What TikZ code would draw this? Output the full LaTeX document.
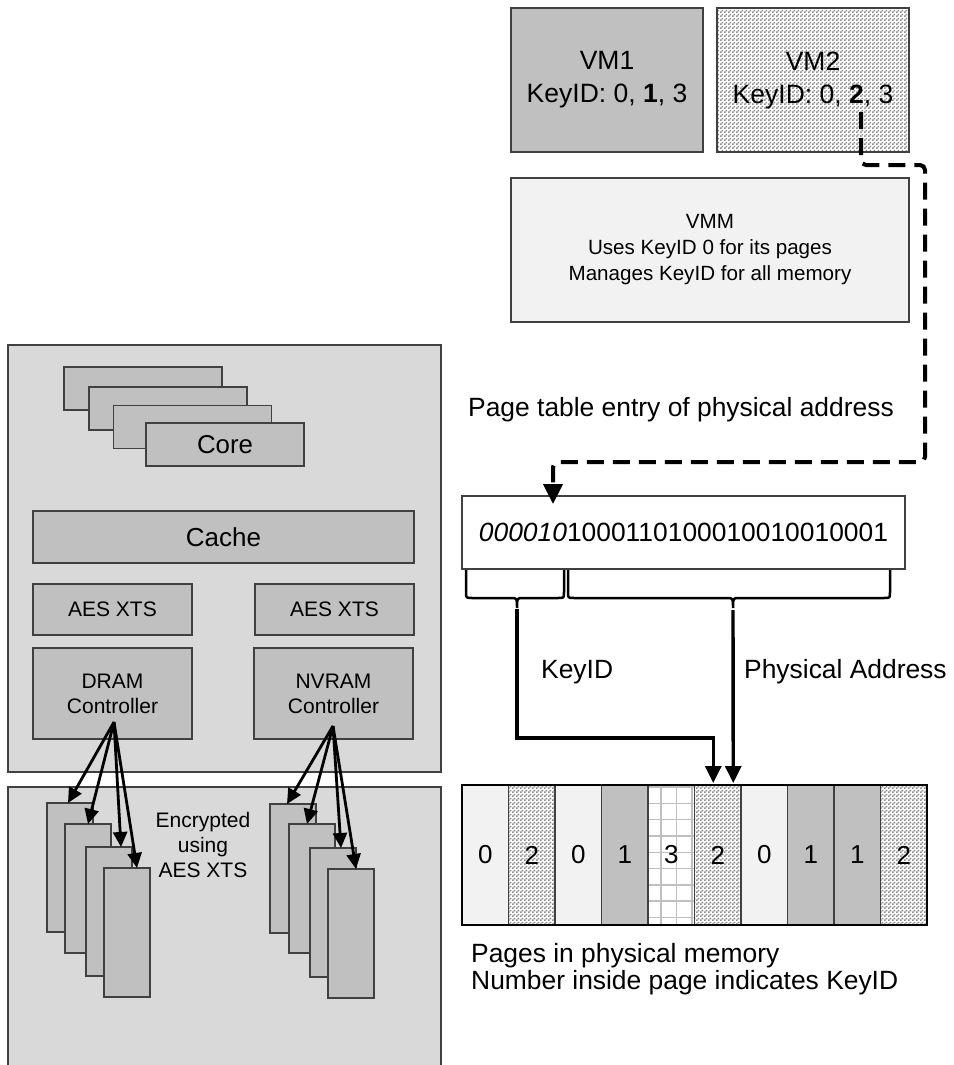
\documentclass[tikz,border=0pt]{standalone}
\usepackage{fontspec}
\setmainfont{Liberation Sans}
\usetikzlibrary{arrows.meta,patterns,calc}

% fine two-tone checker used for KeyID 2 pages
\pgfdeclarepatternformonly{finechecker}{\pgfpointorigin}{\pgfqpoint{4pt}{4pt}}{\pgfqpoint{4pt}{4pt}}{%
  \pgfpathrectangle{\pgfpointorigin}{\pgfqpoint{2pt}{2pt}}%
  \pgfpathrectangle{\pgfqpoint{2pt}{2pt}}{\pgfqpoint{2pt}{2pt}}%
  \pgfusepath{fill}}

\definecolor{edge}{HTML}{404040}
\definecolor{boardgray}{HTML}{D9D9D9}
\definecolor{partgray}{HTML}{C0C0C0}
\definecolor{palegray}{HTML}{F2F2F2}
\definecolor{gridgray}{HTML}{BFBFBF}

\tikzset{
  box/.style={draw=edge, line width=1.2pt, inner sep=0pt, outer sep=0pt, align=center, text=black},
  part/.style={box, fill=partgray},
  pale/.style={box, fill=palegray},
  checker/.style={box, preaction={fill=white}, pattern=finechecker, pattern color=gray!90},
  big/.style={font=\fontsize{26.4}{32}\selectfont},
  mid/.style={font=\fontsize{21}{25}\selectfont},
  module/.style={part, minimum width=46, minimum height=129},
  corebox/.style={part, minimum width=158, minimum height=43},
  ctrlarrow/.style={line width=2.8pt, -{Triangle[length=15pt,width=14pt]}},
  thickarrow/.style={line width=3.4pt, -{Triangle[length=17pt,width=16pt]}},
  dashline/.style={line width=4pt, dash pattern=on 17pt off 9pt, rounded corners=5pt,
                   -{Triangle[length=20pt,width=19pt]}},
  bracepath/.style={line width=2.5pt},
  pg0/.style={box, fill=palegray},
  pg1/.style={box, fill=partgray},
  pg2/.style={checker},
  pg3/.style={box},
}

\begin{document}
\begin{tikzpicture}[x=1pt,y=-1pt]
\useasboundingbox (0,0) rectangle (953,1065);
\fill[white] (0,0) rectangle (953,1065);

% ---- virtual machines and VMM ----
\node[part, font=\fontsize{26.5}{33}\selectfont, minimum width=192, minimum height=144]
  (vm1) at (607,80) {VM1\\KeyID: 0, \textbf{1}, 3};
\node[checker, font=\fontsize{26.5}{33}\selectfont, minimum width=192, minimum height=144]
  (vm2) at (813,80) {VM2\\KeyID: 0, \textbf{2}, 3};
\node[pale, font=\fontsize{20.6}{26}\selectfont, minimum width=398, minimum height=144]
  (vmm) at (710,250) {VMM\\Uses KeyID 0 for its pages\\Manages KeyID for all memory};

% ---- processor package ----
\node[box, fill=boardgray, minimum width=433, minimum height=427] (cpu) at (224.5,558.5) {};
\node[corebox] (core1) at (143,388.5) {};
\node[corebox] (core2) at (168,408.5) {};
\node[corebox] (core3) at (192.5,427) {};
\node[corebox, font=\fontsize{25.8}{30}\selectfont] (core4) at (225,444.5) {Core};
\node[part, font=\fontsize{26}{30}\selectfont, minimum width=381, minimum height=52] (cache) at (223.5,537) {Cache};
\node[part, mid, minimum width=159, minimum height=51] (aesl) at (112.5,609.5) {AES XTS};
\node[part, mid, minimum width=159, minimum height=51] (aesr) at (334.5,609.5) {AES XTS};
\node[part, mid, minimum width=159, minimum height=91] (dram) at (112.5,693.5) {DRAM\\Controller};
\node[part, mid, minimum width=159, minimum height=91] (nvram) at (333.5,693.5) {NVRAM\\Controller};

% ---- memory modules ----
\node[box, fill=boardgray, minimum width=433, minimum height=288] (mem) at (224.5,931) {};
\node[module] (dm1) at (70,867.5) {};
\node[module] (dm2) at (88,888.5) {};
\node[module] (dm3) at (109,911.5) {};
\node[module] (dm4) at (127,932.5) {};
\node[module] (nm1) at (293,868.5) {};
\node[module] (nm2) at (312,888.5) {};
\node[module] (nm3) at (333,912.5) {};
\node[module] (nm4) at (351,933.5) {};
\node[mid, align=center] (enc) at (203,845) {Encrypted\\using\\AES XTS};

\coordinate (dsrc) at ($(dram.south)+(1.5,-17)$);
\coordinate (nsrc) at ($(nvram.south)+(-0.5,-13)$);
\draw[ctrlarrow] (dsrc) -- ($(dm1.north)+(-2,0)$);
\draw[ctrlarrow] (dsrc) -- (dm2.north);
\draw[ctrlarrow] (dsrc) -- ($(dm3.north)+(12,0)$);
\draw[ctrlarrow] (dsrc) -- ($(dm4.north)+(10,0)$);
\draw[ctrlarrow] (nsrc) -- ($(nm1.north)+(-6,0)$);
\draw[ctrlarrow] (nsrc) -- ($(nm2.north)+(-5,0)$);
\draw[ctrlarrow] (nsrc) -- ($(nm3.north)+(8,0)$);
\draw[ctrlarrow] (nsrc) -- ($(nm4.north)+(5,0)$);

% ---- page table entry ----
\node[big, anchor=base west, inner sep=0pt] (ptlabel) at (468,416) {Page table entry of physical address};
\node[box, big, minimum width=443, minimum height=73] (pte) at (683.5,532.5)
  {\textit{000010}1000110100010010010001};

\coordinate (dstart) at ($(vm2.south west)+(144,-40)$);
\draw[dashline] (dstart) -- (861,165) -- (925,165) -- (925,462) -- (553,462) -- ($(pte.north west)+(91,8)$);

% braces under the entry
\draw[bracepath] (466,570) -- (466,592) .. controls (466,598) .. (472,598) -- (511,598)
  .. controls (517,598) .. (517,608) .. controls (517,598) .. (523,598) -- (558,598)
  .. controls (564,598) .. (564,592) -- (564,570);
\draw[bracepath] (568,570) -- (568,592) .. controls (568,598) .. (574,598) -- (727,598)
  .. controls (733,598) .. (733,608) .. controls (733,598) .. (739,598) -- (884,598)
  .. controls (890,598) .. (890,592) -- (890,570);
\coordinate (kb) at (517,609);
\coordinate (pb) at (733,610);

\node[big, anchor=base west, inner sep=0pt] (keylbl) at (541,678) {KeyID};
\node[big, anchor=base west, inner sep=0pt] (addrlbl) at (744,678) {Physical Address};

% ---- physical memory pages ----
\fill[white] (648,785) rectangle (694.5,925);
\begin{scope}
  \clip (648,785) rectangle (694.5,925);
  \foreach \gx in {661,676.5,692} \draw[gridgray, line width=1.4pt] (\gx,785) -- (\gx,925);
  \foreach \gy in {787,803.3,819.6,835.9,852.2,868.5,884.8,901.1,917.4}
    \draw[gridgray, line width=1.4pt] (648,\gy) -- (694.5,\gy);
\end{scope}
\foreach \k [count=\i] in {0,2,0,1,3,2,0,1,1,2}
  \node[pg\k, font=\fontsize{26}{30}\selectfont, minimum width=46.5, minimum height=140]
    (p\i) at ({462+46.5*(\i-0.5)},855) {\k};
\draw[black, line width=1.2pt] (p1.north west) rectangle (p10.south east);

\draw[thickarrow] (kb) |- ($(p6.north)+(-4.5,-47)$) -- ($(p6.north)+(-4.5,-2)$);
\draw[thickarrow] (pb) -- ($(p6.north)+(15.5,-2)$);

\node[big, anchor=base west, inner sep=0pt] (pmem1) at (471,962) {Pages in physical memory};
\node[big, anchor=base west, inner sep=0pt] (pmem2) at (471,989) {Number inside page indicates KeyID};
\end{tikzpicture}
\end{document}
